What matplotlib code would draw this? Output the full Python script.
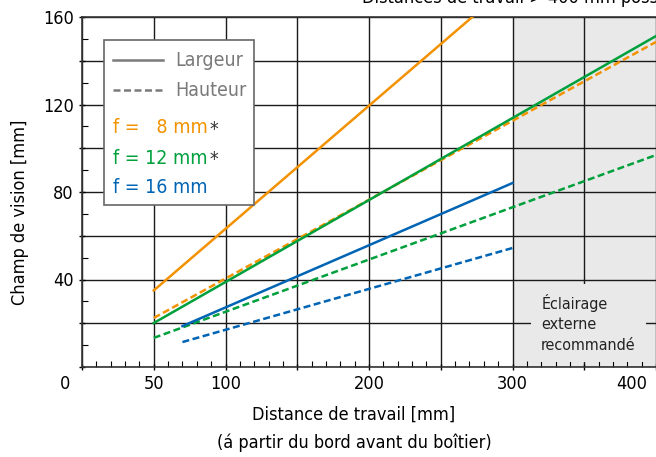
import numpy as np
import matplotlib
matplotlib.use("Agg")
import matplotlib.pyplot as plt
from matplotlib.lines import Line2D
from matplotlib.patches import Rectangle
import matplotlib.transforms as mtransforms

plt.rcParams['font.family'] = ['DejaVu Sans']
plt.rcParams['font.stretch'] = 'condensed'

# working distance [mm] -> field of view [mm]
dist_8 = [50, 272]
width_8 = [35, 160]
dist_8h = [50, 400]
height_8 = [22.4, 148.6]

dist_12 = [50, 400]
width_12 = [20.1, 151.3]
height_12 = [13.3, 96.9]

dist_16 = [70, 300]
width_16 = [18.7, 84.1]
height_16 = [11.4, 54.4]

x_ticks = [0, 50, 100, 150, 200, 250, 300, 350, 400]
x_labels = ['0', '50', '100', '', '200', '', '300', '', '400']
y_ticks = [0, 20, 40, 60, 80, 100, 120, 140, 160]
y_labels = ['', '', '40', '', '80', '', '120', '', '160']

orange = '#f39200'
green = '#00a03c'
blue = '#0064b4'
grey_txt = '#7a7a7a'

fig = plt.figure(figsize=(6.56, 4.57), dpi=100)
ax = fig.add_axes([82 / 656, 1 - 367 / 457, 574 / 656, 350 / 457])

ax.axvspan(300, 420, color='#e9e9e9', zorder=0, lw=0)

lw = 1.8
dash = (0, (2.8, 1.4))
ax.plot(dist_8, width_8, color=orange, lw=lw, zorder=3)
ax.plot(dist_8h, height_8, color=orange, lw=lw, ls=dash, zorder=3)
ax.plot(dist_12, width_12, color=green, lw=lw, zorder=4)
ax.plot(dist_12, height_12, color=green, lw=lw, ls=dash, zorder=3)
ax.plot(dist_16, width_16, color=blue, lw=lw, zorder=3)
ax.plot(dist_16, height_16, color=blue, lw=lw, ls=dash, zorder=3)

ax.set_xlim(0, 400)
ax.set_ylim(0, 160)
ax.set_xticks(x_ticks, x_labels)
ax.set_yticks(y_ticks, y_labels)
ax.set_xticks(np.arange(0, 401, 10), minor=True)
ax.set_yticks(np.arange(0, 161, 10), minor=True)
ax.grid(True, which='major', color='#1a1a1a', lw=1.0, zorder=1)
ax.set_axisbelow(True)
ax.tick_params(which='major', direction='inout', length=4, width=1,
               labelsize=13, pad=4)
ax.tick_params(which='minor', direction='in', length=4, width=0.8)
for s in ['top', 'right']:
    ax.spines[s].set_visible(False)
for s in ['left', 'bottom']:
    ax.spines[s].set_color('#333333')
    ax.spines[s].set_linewidth(1.2)
ax.axhline(160, color='#333333', lw=1.2, zorder=2, clip_on=False)

# shift first and last x labels like the original
xl = ax.get_xticklabels()
xl[0].set_transform(xl[0].get_transform() +
                    mtransforms.ScaledTranslation(-17 / 100, 0, fig.dpi_scale_trans))
xl[-1].set_transform(xl[-1].get_transform() +
                     mtransforms.ScaledTranslation(-24 / 100, 0, fig.dpi_scale_trans))

# legend box drawn by hand
tr = ax.transAxes
ax.add_patch(Rectangle((0.0383, 0.463), 0.2614, 0.471, transform=tr,
                       facecolor='white', edgecolor='#666666', lw=1.2, zorder=6))
ax.add_line(Line2D([0.054, 0.141], [0.877, 0.877], transform=tr,
                   color=grey_txt, lw=lw, zorder=7))
ax.add_line(Line2D([0.054, 0.141], [0.791, 0.791], transform=tr,
                   color=grey_txt, lw=lw, ls=dash, zorder=7))
ax.text(0.162, 0.877, 'Largeur', transform=tr, color=grey_txt, fontsize=14,
        va='center', zorder=7)
ax.text(0.162, 0.791, 'Hauteur', transform=tr, color=grey_txt, fontsize=14,
        va='center', zorder=7)
for yy, lab, col, star in [(0.683, 'f =   8 mm', orange, True),
                           (0.597, 'f = 12 mm', green, True),
                           (0.514, 'f = 16 mm', blue, False)]:
    t = ax.text(0.054, yy, lab, transform=tr, color=col, fontsize=14,
                va='center', zorder=7)
    if star:
        ax.annotate('*', xy=(1, 1), xycoords=t, xytext=(1.5, -1),
                    textcoords='offset points', va='top', ha='left',
                    fontsize=14, color='#333333', zorder=7)

ax.text(353, 20, 'Éclairage\nexterne\nrecommandé', ha='center', va='center',
        multialignment='left', fontsize=11.5, color='#222222', zorder=5,
        linespacing=1.45,
        bbox=dict(facecolor='#e9e9e9', edgecolor='none', pad=7))

fig.text(20 / 656, 1 - 212 / 457, 'Champ de vision [mm]', rotation=90,
         ha='center', va='center', fontsize=13)
fig.text(354 / 656, 1 - 415 / 457, 'Distance de travail [mm]',
         ha='center', va='center', fontsize=13)
fig.text(354 / 656, 1 - 443 / 457, '(á partir du bord avant du boîtier)',
         ha='center', va='center', fontsize=13)
# only the bottom of this note shows in the original, it runs off the top
fig.text(362 / 656, 1 - 3 / 457, 'Distances de travail > 400 mm possible',
         ha='left', va='baseline', fontsize=13)

fig.savefig('out.png', dpi=100)
